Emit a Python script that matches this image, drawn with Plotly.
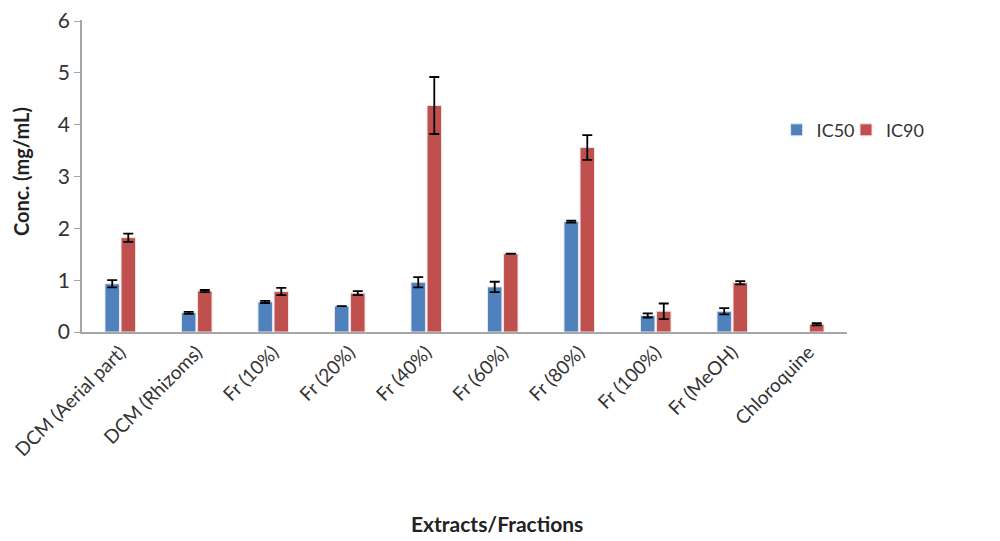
import plotly.graph_objects as go

categories = ['DCM (Aerial part)', 'DCM (Rhizoms)', 'Fr (10%)', 'Fr (20%)', 'Fr (40%)',
              'Fr (60%)', 'Fr (80%)', 'Fr (100%)', 'Fr (MeOH)', 'Chloroquine']

ic50 = [0.93, 0.37, 0.58, 0.50, 0.96, 0.87, 2.13, 0.32, 0.40, None]
ic50_err = [0.07, 0.02, 0.02, 0.0, 0.10, 0.10, 0.02, 0.04, 0.06, None]

ic90 = [1.82, 0.79, 0.78, 0.75, 4.37, 1.51, 3.56, 0.40, 0.95, 0.15]
ic90_err = [0.08, 0.02, 0.07, 0.04, 0.55, 0.0, 0.24, 0.15, 0.03, 0.02]

font_name = 'Lato'

fig = go.Figure()

fig.add_trace(go.Bar(
    x=categories, y=ic50, name='IC50', legend='legend', showlegend=True,
    marker=dict(color='#4F81BD', line=dict(color='#E4E8F0', width=1)),
    error_y=dict(type='data', array=ic50_err, color='black', thickness=1.8, width=5),
))
fig.add_trace(go.Bar(
    x=categories, y=ic90, name='IC90', legend='legend2', showlegend=True,
    marker=dict(color='#C0504D', line=dict(color='#F0E2E2', width=1)),
    error_y=dict(type='data', array=ic90_err, color='black', thickness=1.8, width=5),
))

legend_font = dict(size=18, color='#333333')

# page body has an 8px margin, so margins are shifted to compensate
fig.update_layout(
    width=1000, height=541,
    showlegend=True,
    barmode='group',
    bargap=0.58,
    bargroupgap=0.1,
    plot_bgcolor='white',
    paper_bgcolor='white',
    margin=dict(l=74, r=161, t=12, b=217, autoexpand=False),
    font=dict(family=font_name, color='#333333'),
    # two separate legends so the entries can sit close together
    legend=dict(orientation='h', x=0.908, y=0.647, xanchor='left', yanchor='middle',
                font=legend_font, itemwidth=30, bgcolor='rgba(0,0,0,0)', visible=True),
    legend2=dict(orientation='h', x=0.9987, y=0.647, xanchor='left', yanchor='middle',
                 font=legend_font, itemwidth=30, bgcolor='rgba(0,0,0,0)', visible=True),
)

# axis titles as annotations so they sit where the original has them
fig.add_annotation(
    text='<b>Conc. (mg/mL)</b>', xref='paper', yref='paper',
    x=-0.0797, y=0.513, xanchor='center', yanchor='middle', textangle=-90,
    showarrow=False, font=dict(size=20, color='#222222'),
)
fig.add_annotation(
    text='<b>Extracts/Fractions</b>', xref='paper', yref='paper',
    x=0.542, y=-0.615, xanchor='center', yanchor='middle',
    showarrow=False, font=dict(size=21, color='#222222'),
)

fig.update_xaxes(
    tickangle=-45,
    tickfont=dict(size=19, color='#333333'),
    showline=True, linecolor='#A6A6A6', linewidth=1.5,
    ticks='', showgrid=False, automargin=False,
)
fig.update_yaxes(
    range=[0, 6.02], tickvals=[0, 1, 2, 3, 4, 5, 6],
    tickfont=dict(size=21, color='#333333'),
    ticklabeloverflow='allow',
    showline=True, linecolor='#A6A6A6', linewidth=1.5,
    ticks='outside', ticklen=6, tickcolor='#A6A6A6',
    showgrid=False, zeroline=False, automargin=False,
)

fig.write_html("out.html")
